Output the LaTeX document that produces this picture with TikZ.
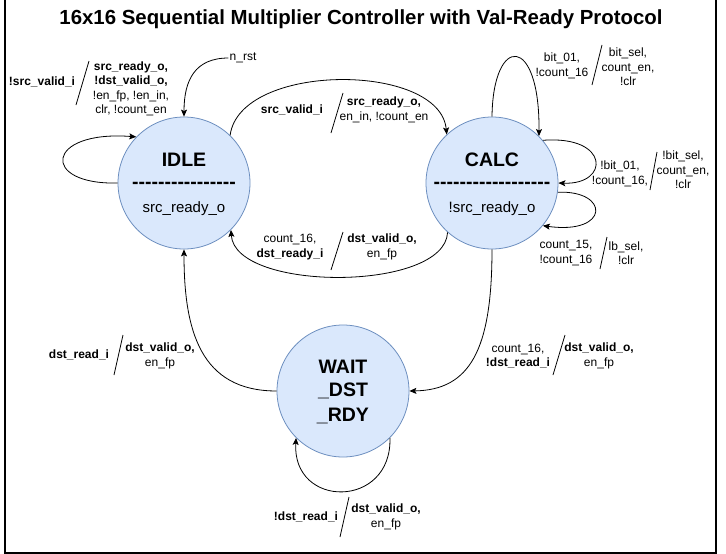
\documentclass[tikz,border=0pt]{standalone}
\usepackage{fontspec}
\setmainfont{Liberation Sans}
\usetikzlibrary{arrows.meta}
\definecolor{statefill}{HTML}{DAE8FC}
\definecolor{statedraw}{HTML}{6C8EBF}
\newcommand{\dashrow}[1]{\foreach \k in {1,...,#1}{-\kern0pt}}
\tikzset{
    fsm state/.style = {
        circle,
        draw = statedraw,
        fill = statefill,
        line width = 0.8pt,
        minimum size = 132pt,
        inner sep = 0pt,
        },
    sname/.style = {
        font = \fontsize{19.5}{24}\selectfont\bfseries,
        inner sep = 0pt,
        },
    sout/.style = {
        font = \fontsize{15}{18}\selectfont,
        inner sep = 0pt,
        },
    lbl/.style = {
        align = center,
        font = \fontsize{12}{14.5}\selectfont,
        inner sep = 1pt,
        },
    sep line/.style = {
        line width = 0.8pt,
        },
    transition/.style = {
        draw,
        line width = 0.8pt,
        -{Stealth[length=7pt,width=6pt,inset=1.5pt]},
        },
    frame/.style = {
        line width = 1.5pt,
        },
    title/.style = {
        font = \fontsize{20.4}{24}\selectfont\bfseries,
        },
}

\begin{document}
\begin{tikzpicture}[x=1pt,y=-1pt]
    \useasboundingbox (0,0) rectangle (726,554);
    \draw[frame] (5,-5) rectangle (716,553);

    \node[title] (title) at (361,19) {16x16 Sequential Multiplier Controller with Val-Ready Protocol};

    % states
    \node[fsm state] (idle) at (184,183) {};
    \node[sname] (idle-name) at ([yshift=23pt]idle.center) {IDLE};
    \node[sname] (idle-line) at ([yshift=-2pt]idle.center) {\dashrow{16}};
    \node[sout] (idle-out) at ([yshift=-26pt]idle.center) {src\_ready\_o};

    \node[fsm state] (calc) at (492,183) {};
    \node[sname] (calc-name) at ([yshift=23pt]calc.center) {CALC};
    \node[sname] (calc-line) at ([yshift=-2pt]calc.center) {\dashrow{18}};
    \node[sout] (calc-out) at ([yshift=-26pt]calc.center) {!src\_ready\_o};

    \node[fsm state] (wait) at (343,391) {};
    \node[sname] (wait-a) at ([yshift=24pt]wait.center) {WAIT};
    \node[sname] (wait-b) at (wait.center) {\_DST};
    \node[sname] (wait-c) at ([yshift=-25pt]wait.center) {\_RDY};

    % reset
    \node[lbl] (rst) at (243,58) {n\_rst};
    \draw[transition] (rst.west) .. controls (195,58) and (184,80) .. (idle.north);

    % idle -> idle
    \draw[transition] (idle.180) .. controls (40,185) and (45,130) .. (idle.136);
    \node[lbl] (c-idle) at (42,82) {\textbf{!src\_valid\_i}};
    \draw[sep line] (89,61) -- (76,105);
    \node[lbl] (a-idle) at (131,89) {\textbf{src\_ready\_o,}\\\textbf{!dst\_valid\_o,}\\!en\_fp, !en\_in,\\clr, !count\_en};

    % idle -> calc
    \draw[transition] (idle.46) .. controls (240,62) and (440,62) .. (calc.133);
    \node[lbl] (c-start) at (292,110) {\textbf{src\_valid\_i}};
    \draw[sep line] (343,93) -- (331,133);
    \node[lbl] (a-start) at (384,110) {\textbf{src\_ready\_o,}\\en\_in, !count\_en};

    % calc -> calc (top)
    \draw[transition] (calc.90) .. controls (493,34) and (540,34) .. (calc.45);
    \node[lbl] (c-bit) at (562,66) {bit\_01,\\!count\_16};
    \draw[sep line] (602,45) -- (592,85);
    \node[lbl] (a-bit) at (628,67) {bit\_sel,\\count\_en,\\!clr};

    % calc -> calc (right)
    \draw[transition] (calc.40) .. controls (610,135) and (610,185) .. (calc.0);
    \node[lbl] (c-nbit) at (620,174) {!bit\_01,\\!count\_16,};
    \draw[sep line] (657,152) -- (650,190);
    \node[lbl] (a-nbit) at (683,170) {!bit\_sel,\\count\_en,\\!clr};

    % calc -> calc (last bit)
    \draw[transition] (calc.-8) .. controls (610,190) and (610,235) .. (calc.-40);
    \node[lbl] (c-lb) at (566,253) {count\_15,\\!count\_16};
    \draw[sep line] (607,237) -- (600,269);
    \node[lbl] (a-lb) at (626,253) {lb\_sel,\\!clr};

    % calc -> idle
    \draw[transition] (calc.228) .. controls (445,292) and (235,292) .. (idle.315);
    \node[lbl] (c-done) at (290,247) {count\_16,\\\textbf{dst\_ready\_i}};
    \draw[sep line] (343,232) -- (331,270);
    \node[lbl] (a-done) at (382,247) {\textbf{dst\_valid\_o,}\\en\_fp};

    % calc -> wait
    \draw[transition] (calc.270) .. controls (492,350) and (470,390) .. (wait.0);
    \node[lbl] (c-wait) at (518,356) {count\_16,\\\textbf{!dst\_read\_i}};
    \draw[sep line] (565,335) -- (553,375);
    \node[lbl] (a-wait) at (599,356) {\textbf{dst\_valid\_o,}\\en\_fp};

    % wait -> idle
    \draw[transition] (wait.180) .. controls (200,391) and (184,330) .. (idle.270);
    \node[lbl] (c-read) at (79,355) {\textbf{dst\_read\_i}};
    \draw[sep line] (123,335) -- (114,375);
    \node[lbl] (a-read) at (160,356) {\textbf{dst\_valid\_o,}\\en\_fp};

    % wait -> wait
    \draw[transition] (wait.-45) .. controls (392,509) and (292,509) .. (wait.225);
    \node[lbl] (c-hold) at (306,517) {\textbf{!dst\_read\_i}};
    \draw[sep line] (349,497) -- (340,537);
    \node[lbl] (a-hold) at (386,517) {\textbf{dst\_valid\_o,}\\en\_fp};
\end{tikzpicture}
\end{document}
